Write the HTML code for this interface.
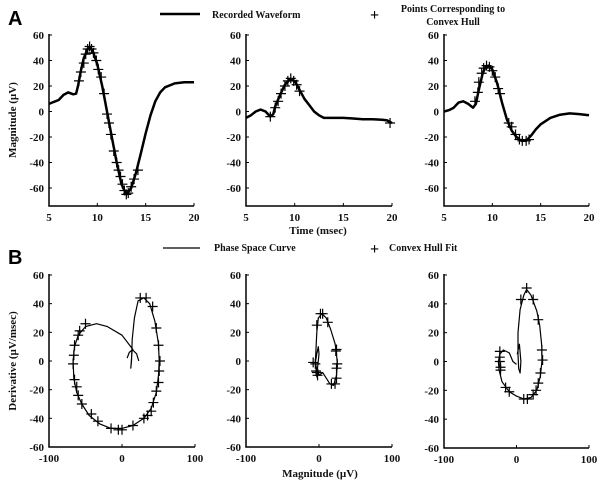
<!DOCTYPE html>
<html><head><meta charset="utf-8"><style>
body{margin:0;background:#fff}
svg{display:block;font-family:"Liberation Serif",serif}
.tk{font-size:11px;font-weight:bold;fill:#111}
.lg{font-size:10px;font-weight:bold;fill:#111}
</style></head><body>
<svg id="s" width="604" height="486" viewBox="0 0 604 486">
<text x="8" y="25" font-family="Liberation Sans,sans-serif" font-weight="bold" font-size="20">A</text>
<text x="8" y="264" font-family="Liberation Sans,sans-serif" font-weight="bold" font-size="20">B</text>
<g>
<line x1="160" y1="14" x2="200" y2="14" stroke="#000" stroke-width="2.5"/>
<text class="lg" x="212" y="18">Recorded Waveform</text>
<text x="370" y="20" font-size="16" font-weight="bold">+</text>
<text class="lg" x="453" y="12" text-anchor="middle">Points Corresponding to</text>
<text class="lg" x="453" y="25" text-anchor="middle">Convex Hull</text>
</g>
<g>
<line x1="163" y1="248" x2="200" y2="248" stroke="#000" stroke-width="1.2"/>
<text class="lg" x="214" y="251">Phase Space Curve</text>
<text x="370" y="254" font-size="16" font-weight="bold">+</text>
<text class="lg" x="389" y="251">Convex Hull Fit</text>
</g>
<text class="tk" x="318" y="234" text-anchor="middle" font-size="13">Time (msec)</text>
<text class="tk" x="320" y="477" text-anchor="middle" font-size="13">Magnitude (µV)</text>
<text class="tk" transform="translate(16,120) rotate(-90)" text-anchor="middle" font-size="13">Magnitude (µV)</text>
<text class="tk" transform="translate(16,361) rotate(-90)" text-anchor="middle" font-size="13">Derivative (µV/msec)</text>
</svg>
<script>
const waveT1=[5,5.5,6,6.5,7,7.5,7.8,8,8.3,8.6,9,9.2,9.5,10,10.5,11,11.5,12,12.5,13,13.5,14,14.5,15,15.5,16,16.5,17,18,19,20];
const waveV1=[6,7.5,9,13,15,13.5,14,20,32,42,49,50,48,37,20,0,-20,-40,-57,-65,-60,-48,-33,-17,-3,8,15,19,22,23,23];
const hullT1=[8.1,8.3,8.6,8.8,9,9.2,9.4,9.6,9.9,10.1,10.4,10.7,11,11.2,11.4,11.7,12,12.2,12.4,12.6,12.8,13,13.2,13.5,13.8,14.2];
const hullV1=[24,31,38,45,49,51,49,46,40,33,27,14,-2,-9,-18,-31,-40,-46,-51,-57,-62,-65,-64,-59,-53,-46];
const waveT2=[5,5.5,6,6.5,7,7.5,7.8,8,8.5,9,9.5,10,10.5,11,11.5,12,12.5,13,14,15,16,17,18,19,19.5,20];
const waveV2=[-5,-3,0,1.5,0,-4,-2,4,13,21,25,24,17,10,5,0,-3,-5,-5,-5,-5.5,-6,-6,-6.5,-7,-9];
const hullT2=[7.5,8,8.3,8.6,9,9.3,9.6,9.9,10.2,10.5,19.8];
const hullV2=[-4,3,8,14,20,24,26,24,21,16,-9];
const waveT3=[5,5.5,6,6.5,7,7.5,8,8.3,8.6,9,9.3,9.6,10,10.5,11,11.5,12,12.5,13,13.5,14,14.5,15,16,17,18,19,20];
const waveV3=[0,1,3,7,8,6,3,6,17,30,35,36,33,22,7,-6,-15,-20,-23,-23,-19,-14,-10,-5,-2.5,-1.5,-2,-3];
const hullT3=[8.2,8.5,8.6,8.9,9.1,9.4,9.7,10,10.3,10.6,10.8,11.7,12,12.4,12.8,13.1,13.5,13.8];
const hullV3=[8,15,23,30,34,36,35,32,27,18,14,-9,-12,-18,-22,-23,-23,-22];
const phM1=[7,10,15,0,-20,-35,-50,-60,-65,-67,-66,-62,-55,-45,-30,-15,0,15,30,40,47,50,51,50,45,38,30,22,17,14,13,12,14,20,23];
const phD1=[2,6,8,18,24,26,24,18,10,0,-12,-22,-30,-38,-44,-47,-47,-45,-40,-33,-22,-10,0,12,28,40,44,42,30,15,0,-5,8,5,0];
const hpM1=[-50,-58,-60,-65,-66,-67,-65,-62,-60,-55,-42,-33,-15,-5,0,15,30,35,40,43,47,50,51,52,50,47,42,33,25];
const hpD1=[26,21,18,11,4,-2,-13,-18,-24,-30,-37,-42,-47,-48,-48,-45,-40,-38,-35,-29,-21,-15,-7,0,11,23,38,44,44];
const phM2=[-5,-3,-1,0,-1,-2,0,5,10,15,20,24,25,24,22,16,10,4,-1,-3,-4,-5,-3,0];
const phD2=[-1,5,10,5,0,-5,-10,-8,-12,-16,-17,-10,-2,5,12,22,30,33,30,20,10,0,-8,-10];
const hpM2=[-8,-5,-3,-2,17,22,24,24,25,23,24,12,5,2,-3,-4];
const hpD2=[-1,-2,-8,-10,-16,-16,-12,-5,-2,7,8,27,33,33,25,-7];
const phM3=[0,-5,-10,-18,-23,-25,-24,-20,-10,0,10,20,28,33,35,35,32,28,20,14,10,5,2,2,3,5,6,4,1];
const phD3=[-2,0,6,8,5,0,-6,-14,-21,-24,-26,-25,-20,-10,0,10,25,35,46,50,46,36,20,5,-5,-8,0,12,5];
const hpM3=[-23,-23,-23,-22,-22,-15,-10,10,15,23,27,30,33,36,35,30,23,14,6];
const hpD3=[7,3,0,-4,-6,-18,-21,-26,-26,-23,-20,-15,-8,1,8,29,43,51,43];

const S=document.getElementById('s');
const NS='http://www.w3.org/2000/svg';
function mk(tag,at){const e=document.createElementNS(NS,tag);for(const k in at)e.setAttribute(k,at[k]);S.appendChild(e);return e;}
function axes(px0,px1,dx0,dx1,py0,py1,dy0,dy1,yBottom){
  return {x:v=>px0+(v-dx0)/(dx1-dx0)*(px1-px0),y:v=>py0+(v-dy0)/(dy1-dy0)*(py1-py0),px0,px1,yBottom};
}
function drawAxes(a,xt,yt,name){
  const p=mk('path',{d:`M${a.px0},${a.y(60)-1}V${a.yBottom}H${a.px1}`,fill:'none',stroke:'#000','stroke-width':1.5});
  
  
  xt.forEach(v=>{
    mk('line',{x1:a.x(v),x2:a.x(v),y1:a.yBottom,y2:a.yBottom-3,stroke:'#000'});
    const t=mk('text',{x:a.x(v),y:a.yBottom+15,'text-anchor':'middle',class:'tk'});t.textContent=v;
    
    
  });
  yt.forEach(v=>{
    mk('line',{x1:a.px0,x2:a.px0+3,y1:a.y(v),y2:a.y(v),stroke:'#000'});
    const t=mk('text',{x:a.px0-5,y:a.y(v)+4,'text-anchor':'end',class:'tk'});t.textContent=v;
    
    
  });
}
function line(a,xs,ys,w,name){
  const d=xs.map((v,i)=>(i?'L':'M')+a.x(v).toFixed(1)+','+a.y(ys[i]).toFixed(1)).join('');
  const p=mk('path',{d,fill:'none',stroke:'#000','stroke-width':w,'stroke-linejoin':'round'});
  
  
}
function marks(a,xs,ys,name){
  xs.forEach((v,i)=>{
    const X=a.x(v),Y=a.y(ys[i]);
    const p=mk('path',{d:`M${X-5},${Y}H${X+5}M${X},${Y-5}V${Y+5}`,stroke:'#000','stroke-width':1.2});
    
    
  });
}
const yT=[60,40,20,0,-20,-40,-60];
const A=[axes(49,194,5,20,35,188,60,-60,206),axes(246,392,5,20,35,188,60,-60,206),axes(444,589,5,20,35,188,60,-60,206)];
const B=[axes(49,195,-100,100,275,447,60,-60,447),axes(246,392,-100,100,275,447,60,-60,447),axes(444,589,-100,100,275,448,60,-60,448)];
const W=[[waveT1,waveV1,hullT1,hullV1],[waveT2,waveV2,hullT2,hullV2],[waveT3,waveV3,hullT3,hullV3]];
const P=[[phM1,phD1,hpM1,hpD1],[phM2,phD2,hpM2,hpD2],[phM3,phD3,hpM3,hpD3]];
A.forEach((a,i)=>{drawAxes(a,[5,10,15,20],yT,'waveform-'+(i+1));line(a,W[i][0],W[i][1],2.5,'waveform-line-'+(i+1));marks(a,W[i][2],W[i][3],'hull-point');});
B.forEach((a,i)=>{drawAxes(a,[-100,0,100],yT,'phase-'+(i+1));line(a,P[i][0],P[i][1],1.2,'phase-curve-'+(i+1));marks(a,P[i][2],P[i][3],'hull-fit-point');});
</script>
</body></html>
